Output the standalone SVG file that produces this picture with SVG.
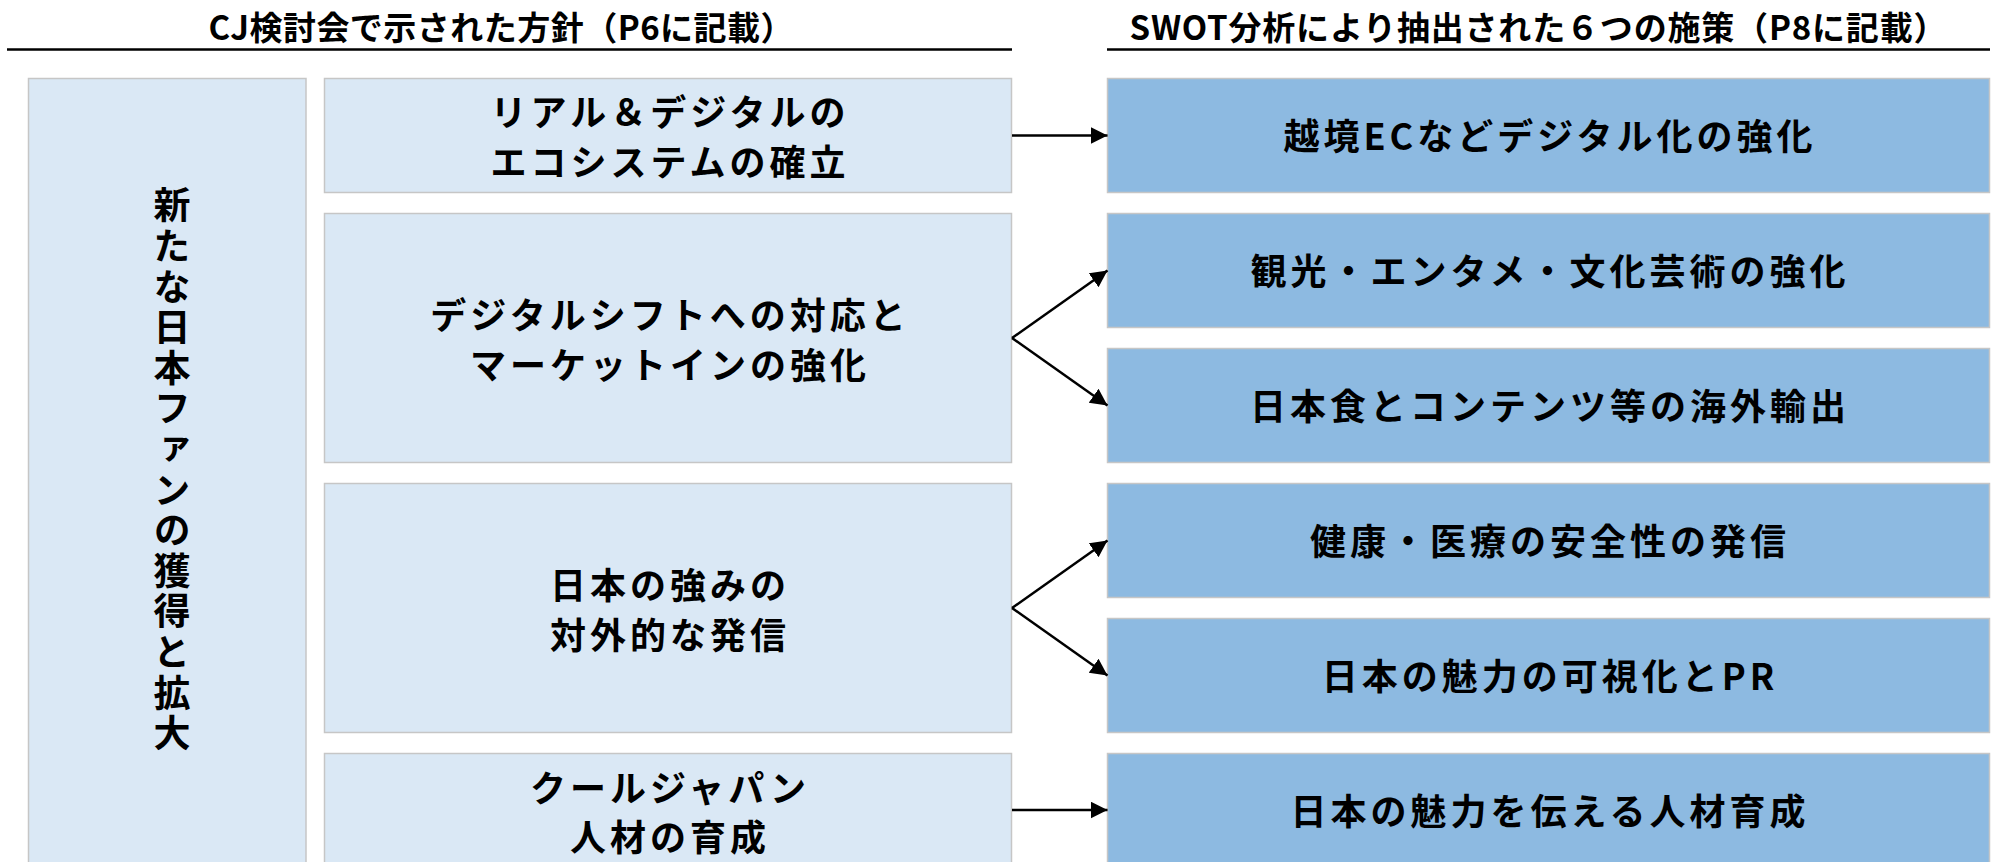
<svg xmlns="http://www.w3.org/2000/svg" width="1998" height="862" viewBox="0 0 1998 862">
  <style>
    .t { font-family: "Noto Sans CJK JP", "Noto Sans", sans-serif; font-weight: 700; fill: #000; }
    .title { font-size: 33px; text-anchor: middle; dominant-baseline: central; }
    .lbl { font-size: 36px; letter-spacing: 4px; text-anchor: middle; dominant-baseline: central; }
    .light { fill: #DAE8F5; stroke: #C6C6C6; stroke-width: 1.5; }
    .dark { fill: #8DBAE1; stroke: #C6C6C6; stroke-width: 1.5; }
    .rule { stroke: #000; stroke-width: 2.5; }
    .conn { stroke: #000; stroke-width: 2.5; fill: none; }
  </style>
  <defs>
    <marker id="ah" markerUnits="userSpaceOnUse" markerWidth="18" markerHeight="18" refX="17" refY="8.5" orient="auto">
      <path d="M0,0 L17,8.5 L0,17 z" fill="#000"/>
    </marker>
  </defs>
  <rect width="1998" height="862" fill="#fff"/>

  <g id="header-left">
    <text class="t title" x="501" y="26" textLength="585" lengthAdjust="spacing">CJ検討会で示された方針（P6に記載）</text>
    <line class="rule" x1="7" y1="49.5" x2="1012" y2="49.5"/>
  </g>
  <g id="header-right">
    <text class="t title" x="1538" y="26" textLength="817" lengthAdjust="spacing">SWOT分析により抽出された６つの施策（P8に記載）</text>
    <line class="rule" x1="1107" y1="49.5" x2="1990" y2="49.5"/>
  </g>

  <g id="goal">
    <rect class="light" x="28.5" y="78.5" width="277.5" height="790"/>
    <text class="t" x="172" y="471" writing-mode="vertical-rl" text-anchor="middle" style="font-size:37px;letter-spacing:3.6px">新たな日本ファンの獲得と拡大</text>
  </g>

  <g id="policy1">
    <rect class="light" x="324.5" y="78.5" width="687" height="114"/>
    <text class="t lbl" x="670" y="110">リアル＆デジタルの</text>
    <text class="t lbl" x="670" y="160">エコシステムの確立</text>
  </g>
  <g id="policy2">
    <rect class="light" x="324.5" y="213.5" width="687" height="249"/>
    <text class="t lbl" x="670" y="313">デジタルシフトへの対応と</text>
    <text class="t lbl" x="670" y="363">マーケットインの強化</text>
  </g>
  <g id="policy3">
    <rect class="light" x="324.5" y="483.5" width="687" height="249"/>
    <text class="t lbl" x="670" y="583">日本の強みの</text>
    <text class="t lbl" x="670" y="633">対外的な発信</text>
  </g>
  <g id="policy4">
    <rect class="light" x="324.5" y="753.5" width="687" height="114"/>
    <text class="t lbl" x="670" y="786">クールジャパン</text>
    <text class="t lbl" x="670" y="835">人材の育成</text>
  </g>

  <g id="measure1">
    <rect class="dark" x="1107.5" y="78.5" width="882" height="114"/>
    <text class="t lbl" x="1550" y="134">越境ECなどデジタル化の強化</text>
  </g>
  <g id="measure2">
    <rect class="dark" x="1107.5" y="213.5" width="882" height="114"/>
    <text class="t lbl" x="1550" y="269">観光・エンタメ・文化芸術の強化</text>
  </g>
  <g id="measure3">
    <rect class="dark" x="1107.5" y="348.5" width="882" height="114"/>
    <text class="t lbl" x="1550" y="404">日本食とコンテンツ等の海外輸出</text>
  </g>
  <g id="measure4">
    <rect class="dark" x="1107.5" y="483.5" width="882" height="114"/>
    <text class="t lbl" x="1550" y="539">健康・医療の安全性の発信</text>
  </g>
  <g id="measure5">
    <rect class="dark" x="1107.5" y="618.5" width="882" height="114"/>
    <text class="t lbl" x="1550" y="674">日本の魅力の可視化とPR</text>
  </g>
  <g id="measure6">
    <rect class="dark" x="1107.5" y="753.5" width="882" height="114"/>
    <text class="t lbl" x="1550" y="809">日本の魅力を伝える人材育成</text>
  </g>

  <g id="connectors">
    <line class="conn" x1="1012" y1="135.5" x2="1107.5" y2="135.5" marker-end="url(#ah)"/>
    <line class="conn" x1="1012" y1="338" x2="1107.5" y2="270.5" marker-end="url(#ah)"/>
    <line class="conn" x1="1012" y1="338" x2="1107.5" y2="405.5" marker-end="url(#ah)"/>
    <line class="conn" x1="1012" y1="608" x2="1107.5" y2="540.5" marker-end="url(#ah)"/>
    <line class="conn" x1="1012" y1="608" x2="1107.5" y2="675.5" marker-end="url(#ah)"/>
    <line class="conn" x1="1012" y1="810" x2="1107.5" y2="810" marker-end="url(#ah)"/>
  </g>
</svg>
